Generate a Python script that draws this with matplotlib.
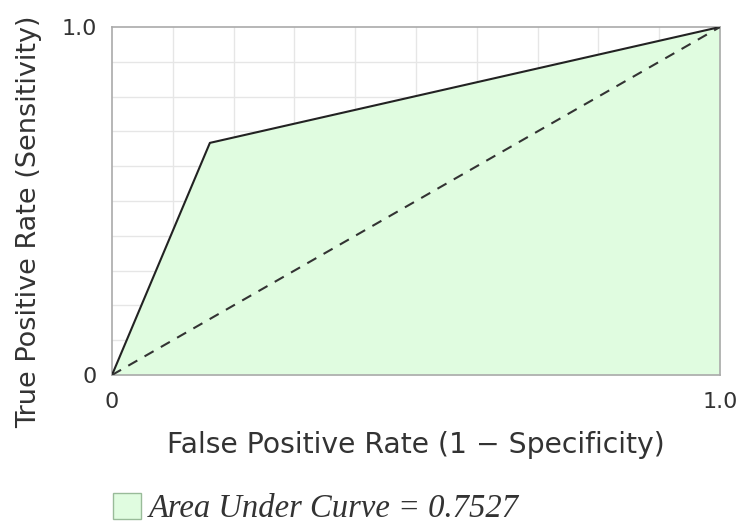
import numpy as np
import matplotlib
matplotlib.use("Agg")
import matplotlib.pyplot as plt
from matplotlib.patches import Patch

# ROC points
fpr = [0.0, 0.161, 1.0]
tpr = [0.0, 0.667, 1.0]
chance_x = [0.0, 1.0]
chance_y = [0.0, 1.0]
auc_value = 0.7527
tick_vals = [0.0, 1.0]
tick_labels = ["0", "1.0"]

fill_col = "#e0fce0"

fig = plt.figure(figsize=(7.42, 5.23), dpi=100)
ax = fig.add_axes([112/742, 1 - 375/523, (720 - 112)/742, (375 - 27)/523])

ax.fill_between(fpr, tpr, 0, color=fill_col, zorder=2, linewidth=0)
ax.plot(fpr, tpr, color="#222222", lw=1.5, zorder=4)
ax.plot(chance_x, chance_y, color="#333333", lw=1.5, ls=(0, (5, 4)), zorder=4)

ax.set_xlim(0, 1)
ax.set_ylim(0, 1)
ax.set_xticks(tick_vals)
ax.set_xticklabels(tick_labels)
ax.set_yticks(tick_vals)
ax.set_yticklabels(tick_labels)
ax.set_xticks(np.linspace(0, 1, 11), minor=True)
ax.set_yticks(np.linspace(0, 1, 11), minor=True)
ax.grid(which="minor", color="#e6e6e6", lw=1, zorder=0)
ax.set_axisbelow(True)
ax.tick_params(which="both", length=0)
ax.tick_params(axis="x", pad=12, labelsize=16, labelcolor="#333333")
ax.tick_params(axis="y", pad=11, labelsize=16, labelcolor="#333333")
for s in ax.spines.values():
    s.set_color("#aaaaaa")
    s.set_linewidth(1.2)

ax.set_xlabel("False Positive Rate (1 \u2212 Specificity)", fontsize=20.3, color="#333333")
ax.xaxis.set_label_coords(0.5, -0.16)
ax.set_ylabel("True Positive Rate (Sensitivity)", fontsize=19.5, color="#333333")
ax.yaxis.set_label_coords(-0.115, 0.44)

handle = Patch(facecolor=fill_col, edgecolor="#99bb99", linewidth=1)
fig.legend([handle], ["Area Under Curve = %.4f" % auc_value],
           loc="lower left", bbox_to_anchor=(84/742, -0.058), frameon=False,
           handlelength=0.85, handleheight=0.85, handletextpad=0.25,
           prop={"family": "Liberation Serif", "style": "italic", "size": 23.5},
           labelcolor="#333333")

fig.savefig("out.png", dpi=100)
